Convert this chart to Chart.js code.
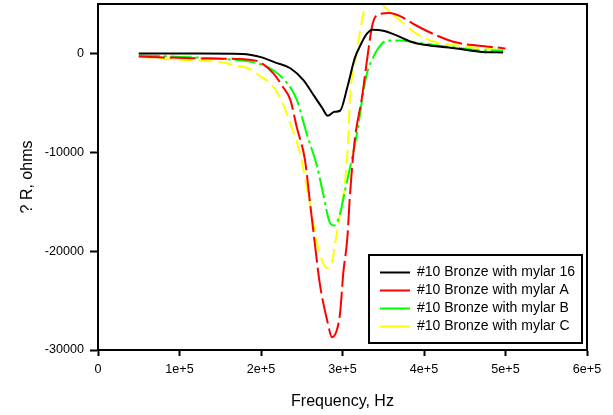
<!DOCTYPE html>
<html>
<head>
<meta charset="utf-8">
<script src="https://cdn.jsdelivr.net/npm/chart.js@4"></script>
<style>
  body { margin: 0; background: #fff; }
</style>
</head>
<body>
<canvas id="chart" width="613" height="415"></canvas>
<script>
const freq16 = [50000, 125000, 177000, 201000, 217000, 236000, 252000, 266000, 275000, 282000, 290000, 297000, 306000, 315000, 323000, 330000, 337000, 350000, 367000, 387000, 407000, 440000, 472000, 497000];
const r16 = [0, 0, -50, -400, -900, -1500, -2700, -4400, -5500, -6300, -5900, -5800, -3400, -500, 1000, 2000, 2400, 2300, 1800, 1100, 800, 500, 150, 100];

const freqA = [50000, 120000, 180000, 199000, 215000, 227000, 236000, 244000, 254000, 260000, 266000, 272000, 282000, 287000, 293000, 297000, 301000, 306000, 309000, 315000, 324000, 330000, 337000, 346000, 358000, 370000, 391000, 416000, 440000, 465000, 490000, 500000];
const rA = [-300, -500, -600, -900, -2000, -3400, -4700, -7500, -10800, -15000, -19200, -23200, -27300, -28700, -28000, -26300, -22200, -18600, -14500, -8800, -4400, -700, 3000, 4000, 4100, 3800, 2800, 1800, 1100, 800, 600, 500];

const freqB = [50000, 119000, 184000, 196000, 215000, 232000, 244000, 256000, 269000, 276000, 285000, 290000, 297000, 303000, 313000, 319000, 324000, 330000, 336000, 342000, 355000, 371000, 391000, 416000, 448000, 472000, 497000];
const rB = [-200, -400, -800, -1000, -1700, -3000, -4700, -8100, -11500, -14100, -17200, -17400, -16200, -13900, -10100, -7500, -4700, -2000, -700, 300, 1300, 1300, 1100, 800, 500, 300, 300];

const freqC = [50000, 91000, 119000, 152000, 168000, 184000, 201000, 211000, 223000, 236000, 248000, 256000, 263000, 270000, 281000, 287000, 291000, 297000, 303000, 307000, 309000, 315000, 321000, 328000, 340000, 348000, 367000, 391000, 416000, 440000, 472000, 497000];
const rC = [-300, -600, -700, -900, -1200, -1500, -2400, -3000, -4400, -7100, -10100, -13500, -16500, -19600, -21700, -21100, -19200, -16200, -13100, -8800, -4700, -1000, 2000, 4800, 5700, 5000, 3600, 2000, 1100, 800, 500, 300];

const xTicks = [0, 100000, 200000, 300000, 400000, 500000, 600000];
const xLabels = ['0', '1e+5', '2e+5', '3e+5', '4e+5', '5e+5', '6e+5'];
const yTicks = [-30000, -20000, -10000, 0];

function pts(xs, ys) {
  return xs.map((x, i) => ({ x: x, y: ys[i] }));
}

Chart.defaults.font.family = "'Liberation Sans', Arial, sans-serif";
Chart.defaults.color = '#000';

// legend sits inside the plot, with a box round it; top and right frame lines
const framePlugin = {
  id: 'frame',
  afterLayout(chart) {
    const L = chart.legend;
    const ca = chart.chartArea;
    L.left = ca.right - 211;
    L.right = ca.right;
    L.top = ca.bottom - 88.5;
    L.bottom = ca.bottom;
    L.width = L.right - L.left;
    L.height = L.bottom - L.top;
  },
  afterDraw(chart) {
    const ctx = chart.ctx;
    const ca = chart.chartArea;
    ctx.save();
    ctx.strokeStyle = '#000';
    ctx.lineWidth = 2;
    ctx.beginPath();
    ctx.moveTo(ca.left, ca.top);
    ctx.lineTo(ca.right, ca.top);
    ctx.lineTo(ca.right, ca.bottom);
    ctx.stroke();
    ctx.strokeRect(ca.right - 218, ca.bottom - 95, 213, 88);
    ctx.restore();
  }
};

new Chart(document.getElementById('chart'), {
  type: 'scatter',
  data: {
    datasets: [
      { label: '#10 Bronze with mylar 16', data: pts(freq16, r16), borderColor: '#000000', borderWidth: 2 },
      { label: '#10 Bronze with mylar A', data: pts(freqA, rA), borderColor: '#ff0000', borderWidth: 2, borderDash: [26, 5] },
      { label: '#10 Bronze with mylar B', data: pts(freqB, rB), borderColor: '#00ff00', borderWidth: 2, borderDash: [21, 4, 3, 4] },
      { label: '#10 Bronze with mylar C', data: pts(freqC, rC), borderColor: '#ffff00', borderWidth: 2, borderDash: [14, 6] }
    ]
  },
  options: {
    responsive: false,
    animation: false,
    devicePixelRatio: 1,
    showLine: true,
    elements: {
      point: { radius: 0 },
      line: { cubicInterpolationMode: 'monotone', fill: false }
    },
    layout: { padding: { left: 0, top: 4, right: 26, bottom: 0 } },
    plugins: {
      tooltip: { enabled: false },
      legend: {
        position: 'chartArea',
        align: 'start',
        labels: {
          usePointStyle: true,
          pointStyle: 'line',
          pointStyleWidth: 30,
          padding: 4,
          font: { size: 14 },
          color: '#000'
        }
      }
    },
    scales: {
      x: {
        type: 'linear',
        min: 0,
        max: 600000,
        afterFit(scale) {
          scale.height = 65;
          scale.paddingLeft = 0;
          scale.paddingRight = 0;
        },
        afterBuildTicks(scale) { scale.ticks = xTicks.map(v => ({ value: v })); },
        ticks: {
          padding: 6,
          font: { size: 12.6 },
          callback: (v) => xLabels[xTicks.indexOf(v)]
        },
        grid: { drawOnChartArea: false, tickLength: 6, tickWidth: 2, tickColor: '#000' },
        border: { color: '#000', width: 2 },
        title: { display: true, text: 'Frequency, Hz', font: { size: 16 }, padding: { top: 0, bottom: 4 } }
      },
      y: {
        min: -30000,
        max: 5000,
        afterFit(scale) {
          scale.width = 98;
          scale.paddingTop = 0;
          scale.paddingBottom = 0;
        },
        afterBuildTicks(scale) { scale.ticks = yTicks.map(v => ({ value: v })); },
        ticks: {
          padding: 6,
          font: { size: 12.6 },
          callback: (v) => String(v)
        },
        grid: { drawOnChartArea: false, tickLength: 8, tickWidth: 2, tickColor: '#000' },
        border: { color: '#000', width: 2 },
        title: { display: true, text: '? R, ohms', font: { size: 16 }, padding: { top: 18, bottom: 0 } }
      }
    }
  },
  plugins: [framePlugin]
});
</script>
</body>
</html>
